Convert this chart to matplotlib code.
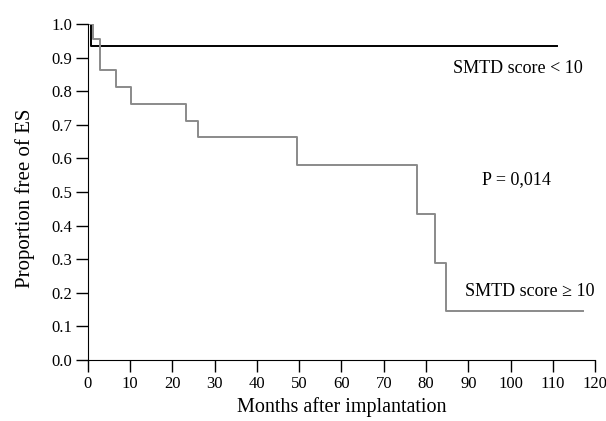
import matplotlib
matplotlib.use("Agg")
import matplotlib.pyplot as plt

plt.rcParams['font.family'] = ['Liberation Serif', 'DejaVu Serif']

# SMTD score < 10 (black)
low_t = [0, 0.7, 111]
low_s = [1.0, 0.935, 0.935]

# SMTD score >= 10 (grey)
high_t = [0, 1.1, 2.8, 6.6, 10.3, 23.2, 26.0, 49.5, 77.8, 82.1, 84.7, 117.2]
high_s = [1.0, 0.955, 0.863, 0.813, 0.761, 0.712, 0.663, 0.58, 0.435, 0.29, 0.145, 0.145]

x_ticks = list(range(0, 121, 10))
y_ticks = [i / 10 for i in range(11)]

fig = plt.figure(figsize=(6.06, 4.21), dpi=100)
ax = fig.add_axes([0.145, 0.145, 0.837, 0.798])

ax.step(low_t, low_s, where='post', color='black', lw=1.4)
ax.step(high_t, high_s, where='post', color='#8a8a8a', lw=1.4)

ax.set_xlim(0, 120)
ax.set_ylim(0, 1.0)
ax.set_xticks(x_ticks)
ax.set_yticks(y_ticks)
ax.set_yticklabels(['%.1f' % v for v in y_ticks])
ax.spines['top'].set_visible(False)
ax.spines['right'].set_visible(False)
ax.tick_params(direction='out', length=8.5, width=1, labelsize=12, pad=3)

ax.set_xlabel('Months after implantation', fontsize=14.5, labelpad=4)
ax.set_ylabel('Proportion free of ES', fontsize=15)
ax.yaxis.set_label_coords(-0.105, 0.48)

ax.text(86.4, 0.869, 'SMTD score < 10', fontsize=13, va='center')
ax.text(93.2, 0.536, 'P = 0,014', fontsize=13, va='center')
ax.text(89.2, 0.203, 'SMTD score \u2265 10', fontsize=13, va='center')

fig.savefig('out.png', dpi=100)
